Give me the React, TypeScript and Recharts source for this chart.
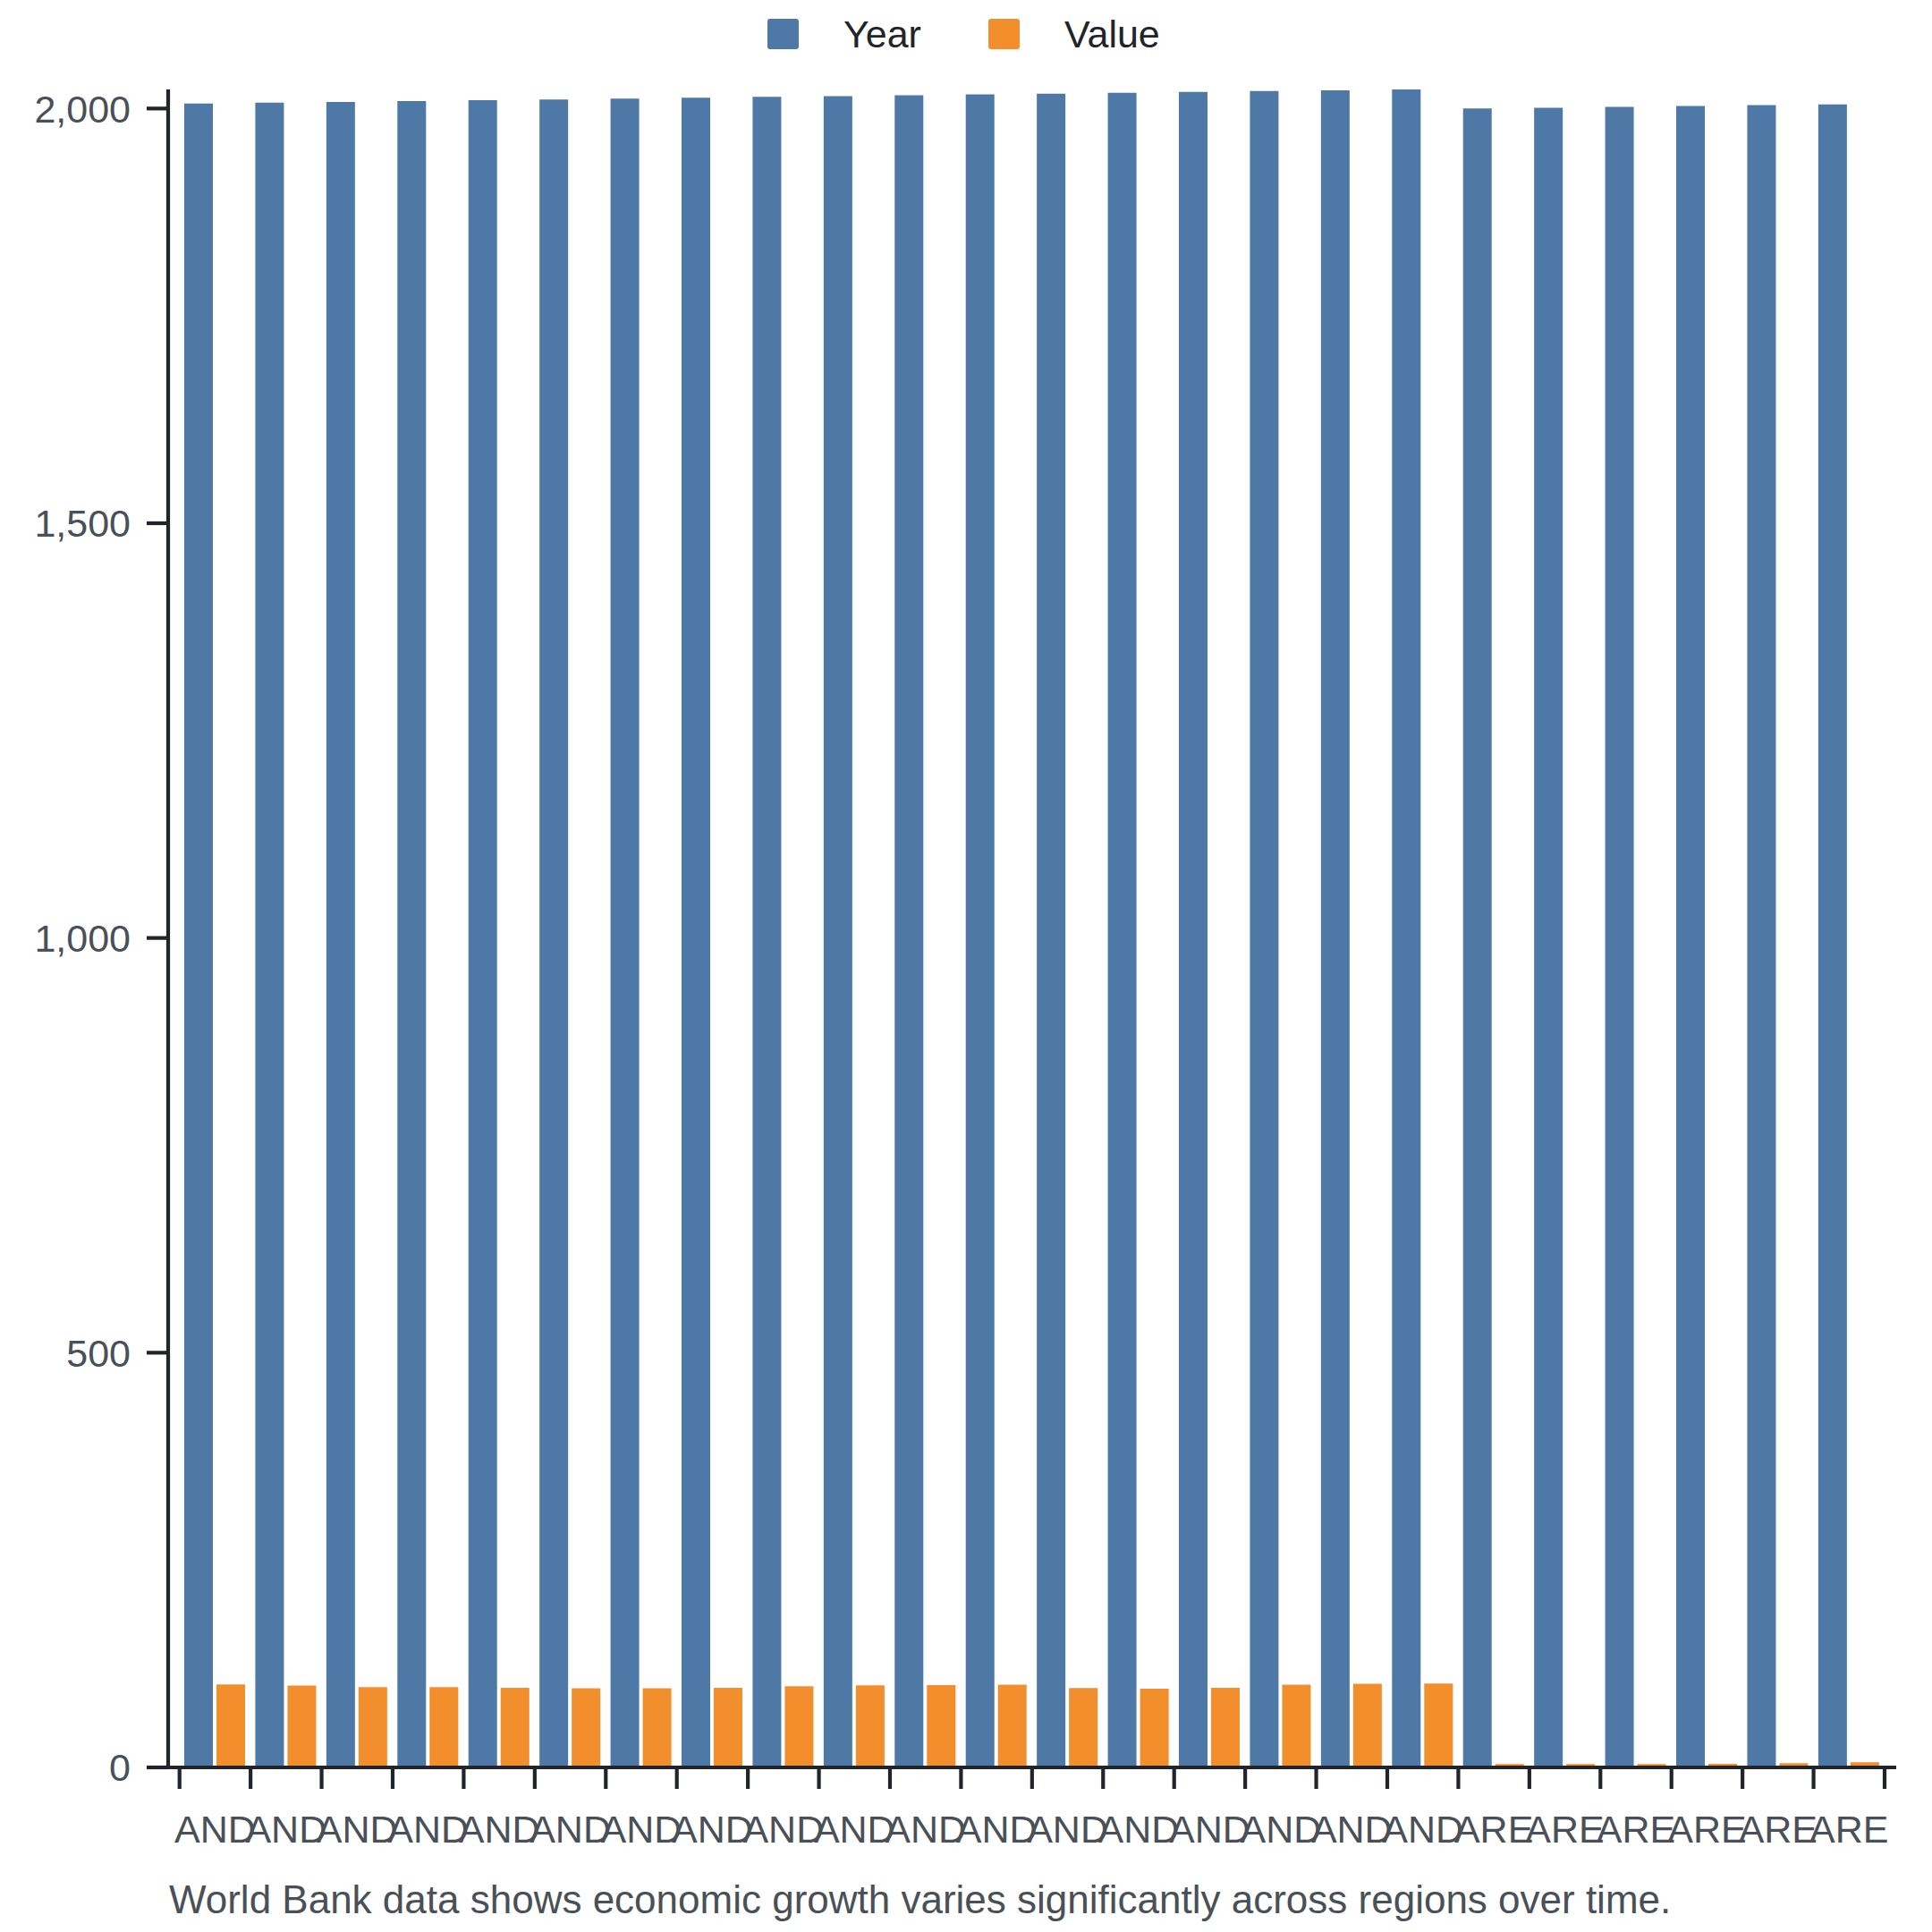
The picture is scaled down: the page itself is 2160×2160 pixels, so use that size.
import { BarChart, Bar, XAxis, YAxis } from 'recharts'

const countries = [
  'AND', 'AND', 'AND', 'AND', 'AND', 'AND', 'AND', 'AND', 'AND',
  'AND', 'AND', 'AND', 'AND', 'AND', 'AND', 'AND', 'AND', 'AND',
  'ARE', 'ARE', 'ARE', 'ARE', 'ARE', 'ARE',
]
const years = [
  2006, 2007, 2008, 2009, 2010, 2011, 2012, 2013, 2014,
  2015, 2016, 2017, 2018, 2019, 2020, 2021, 2022, 2023,
  2000, 2001, 2002, 2003, 2004, 2005,
]
const values = [
  100.0, 98.6, 96.8, 96.8, 96.0, 95.4, 95.4, 96.0, 97.8,
  98.9, 99.2, 99.7, 95.7, 94.9, 96.0, 99.7, 100.8, 101.1,
  4.0, 4.0, 4.0, 4.3, 5.1, 6.1,
]
const yTicks = [0, 500, 1000, 1500, 2000]

const SERIES = [
  { key: 'Year', color: '#4e79a7' },
  { key: 'Value', color: '#f28e2b' },
]

const data = countries.map((c, i) => ({ country: c, Year: years[i], Value: values[i] }))

const FONT = '"Liberation Sans", Arial, Helvetica, sans-serif'
const AXIS = '#212529'
const LABEL = '#495057'

// ticks sit on the band edges, labels in the band centre
const EdgeTick = (props: any) => {
  const { x, y, payload, index } = props
  const off = payload?.offset ?? 0
  const last = index === data.length - 1
  return (
    <g>
      <line x1={x - off} x2={x - off} y1={y} y2={y + 24} stroke={AXIS} strokeWidth={4.2} />
      {last && <line x1={x + off} x2={x + off} y1={y} y2={y + 24} stroke={AXIS} strokeWidth={4.2} />}
      <text x={x} y={y + 84} textAnchor="middle" fill={LABEL} fontSize={43} fontFamily={FONT}>
        {payload.value}
      </text>
    </g>
  )
}

export default function App() {
  return (
    <div style={{ position: 'absolute', left: 0, top: 0, width: 2160, height: 2160, background: '#fff' }}>
      <BarChart
        width={2160}
        height={2160}
        data={data}
        margin={{ top: 100, right: 40, bottom: 84, left: 0 }}
        barCategoryGap={5.3}
        barGap={4}
      >
        <XAxis
          dataKey="country"
          interval={0}
          height={100}
          padding={{ left: 12.7, right: 13 }}
          axisLine={{ stroke: AXIS, strokeWidth: 4.2 }}
          tickLine={false}
          tickSize={0}
          tickMargin={0}
          tick={<EdgeTick />}
        />
        <YAxis
          width={188}
          domain={[0, 2023]}
          ticks={yTicks}
          allowDataOverflow
          tickFormatter={(v: number) => v.toLocaleString('en-US')}
          axisLine={{ stroke: AXIS, strokeWidth: 4.2 }}
          tickLine={{ stroke: AXIS, strokeWidth: 4.2 }}
          tickSize={24}
          tickMargin={18}
          tick={{ fill: LABEL, fontSize: 43, fontFamily: FONT }}
        />
        {SERIES.map((s) => (
          <Bar key={s.key} dataKey={s.key} fill={s.color} isAnimationActive={false} />
        ))}
      </BarChart>
      <svg
        width={2160}
        height={2160}
        style={{ position: 'absolute', left: 0, top: 0, pointerEvents: 'none' }}
      >
        {/* legend */}
        <rect x={858} y={21} width={35} height={34} rx={3} fill={SERIES[0].color} />
        <text x={943} y={53} fontSize={43} fontFamily={FONT} fill={AXIS}>{SERIES[0].key}</text>
        <rect x={1105} y={21} width={35} height={34} rx={3} fill={SERIES[1].color} />
        <text x={1190} y={53} fontSize={43} fontFamily={FONT} fill={AXIS}>{SERIES[1].key}</text>
        {/* caption */}
        <text x={189} y={2139} fontSize={44} fontFamily={FONT} fill={LABEL}>
          World Bank data shows economic growth varies significantly across regions over time.
        </text>
      </svg>
    </div>
  )
}
